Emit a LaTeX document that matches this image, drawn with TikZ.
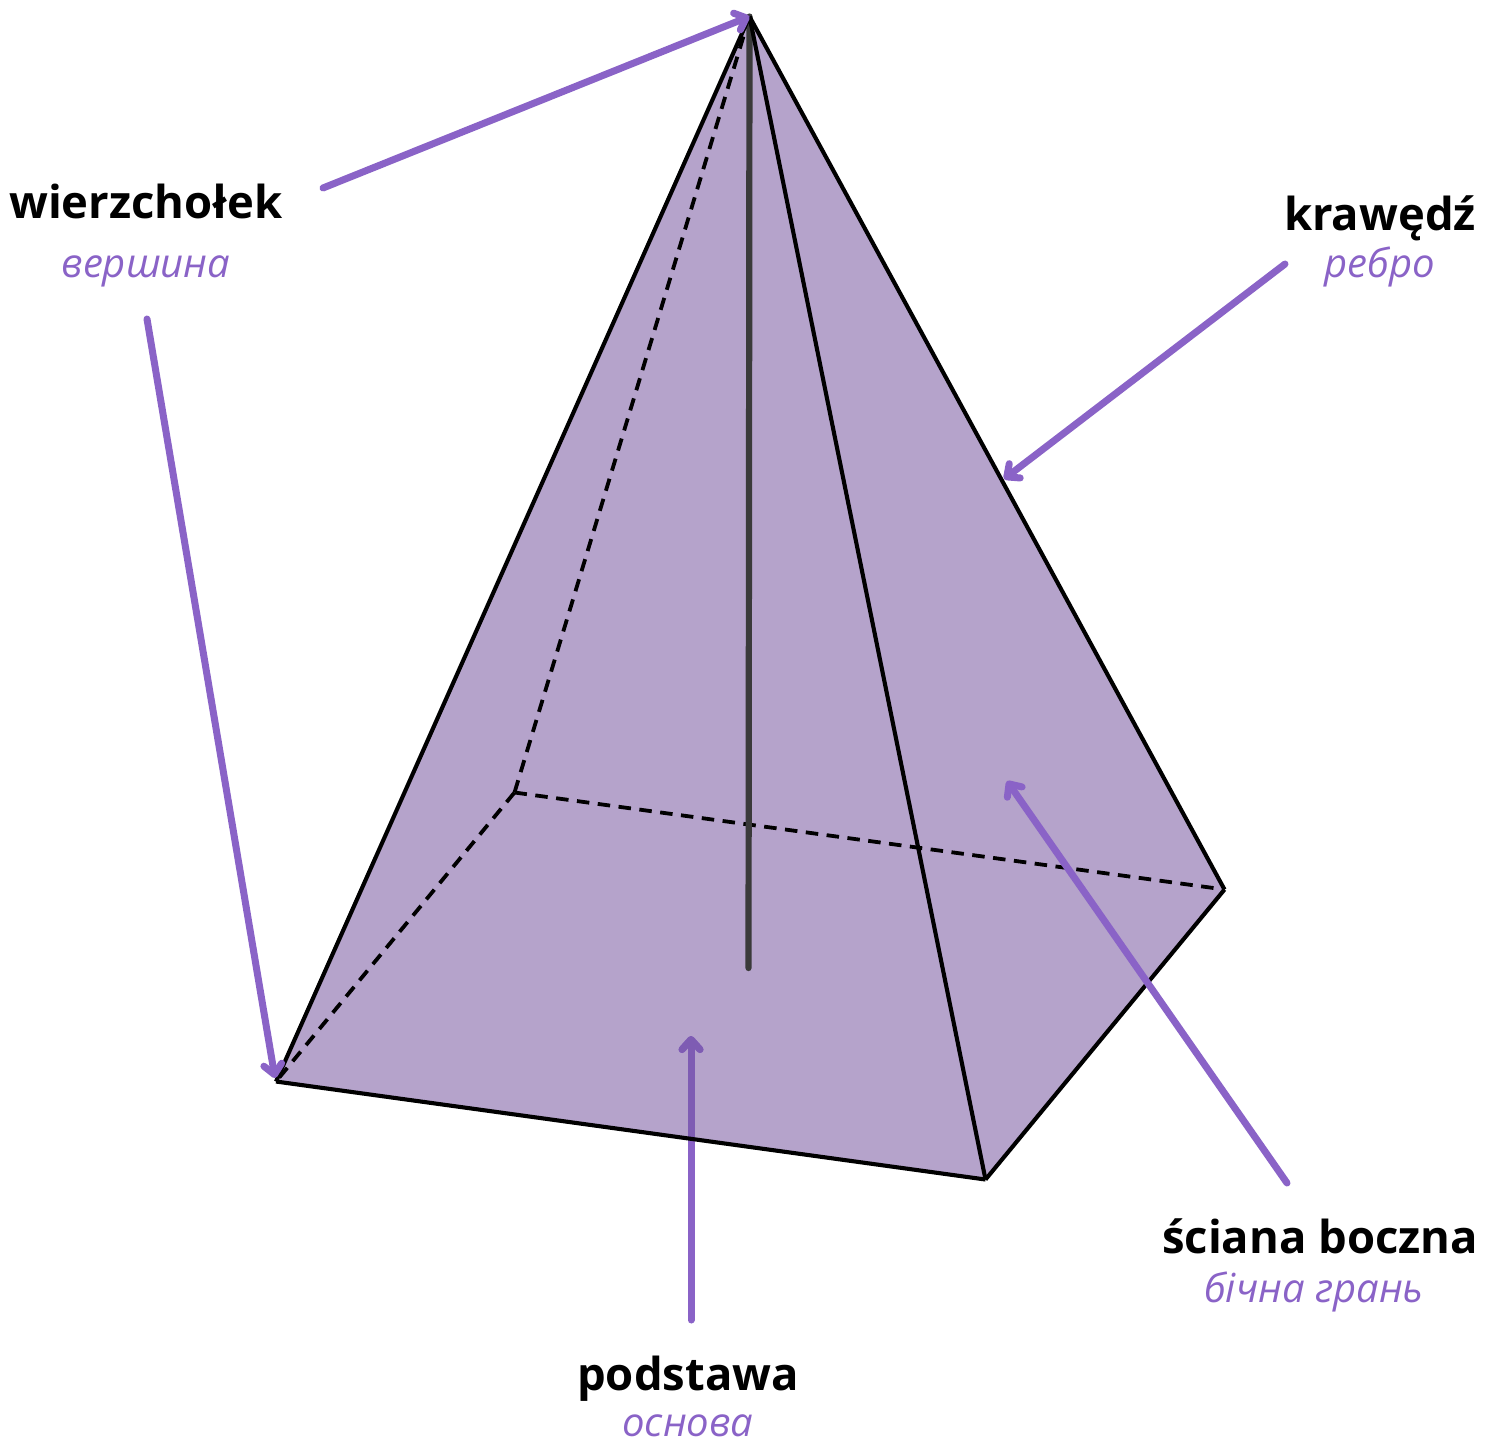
\documentclass[tikz,border=0pt]{standalone}
\usepackage{fontspec}
\setmainfont{Open Sans}
\usepackage{xcolor}
\usetikzlibrary{arrows.meta, positioning}
\definecolor{facefill}{HTML}{B5A3CB}
\definecolor{notepurple}{HTML}{8A63C7}
\definecolor{notedark}{HTML}{7E5CB3}
\definecolor{axisgray}{HTML}{3A3A3A}

\begin{document}
\begin{tikzpicture}[
    x=1pt, y=-1pt,
    node distance=47pt,
    term/.style={inner sep=0pt, text height=34pt, text depth=0pt, font=\fontsize{45.4}{45.4}\selectfont\bfseries},
    transl/.style={inner sep=0pt, text height=0pt, text depth=0pt, text=notepurple, font=\fontsize{40}{40}\selectfont\itshape},
    edge/.style={black, line width=4.1pt, line join=round},
    hidden/.style={black, line width=3.8pt, dash pattern=on 12.5pt off 8.5pt},
    pointer/.style={-{Straight Barb[round, length=10pt, width=18pt, line width=7pt]}, notepurple, line width=7pt, line cap=round},
]
\useasboundingbox (0,0) rectangle (1495,1441);

% Pyramid corners
\coordinate (apex) at (749.5,16.5);
\coordinate (frontleft) at (276,1081.5);
\coordinate (frontright) at (985.5,1179.5);
\coordinate (backright) at (1224.5,889.5);
\coordinate (backleft) at (514.5,792.5);
\coordinate (axisfoot) at (748.5,968);

% Faces
\fill[facefill] (apex) -- (frontleft) -- (frontright) -- (backright) -- cycle;

% Hidden edges
\draw[hidden] (apex) -- (backleft);
\draw[hidden] (backleft) -- (frontleft);
\draw[hidden] (backleft) -- (backright);

% Axis
\draw[axisgray, line width=6.2pt, line cap=round] (apex) -- (axisfoot);

% Pointer ends
\coordinate (vertexstarta) at (323,188);
\coordinate (vertexstartb) at (147,319);
\coordinate (vertexendb) at (275,1078);
\coordinate (edgestart) at (1285,264);
\coordinate (edgeend) at (1004,479);
\coordinate (facestart) at (1287,1183);
\coordinate (faceend) at (1007,781);
\coordinate (basestart) at (691,1320);
\coordinate (baseend) at (691,1036);

% Base pointer lies under the edges and darkens on the face
\draw[pointer] (basestart) -- (baseend);
\begin{scope}
\clip (apex) -- (frontleft) -- (frontright) -- (backright) -- cycle;
\draw[pointer, notedark] (basestart) -- (baseend);
\end{scope}

% Visible edges
\draw[edge] (apex) -- (frontleft);
\draw[edge] (frontleft) -- (frontright);
\draw[edge] (frontright) -- (backright);
\draw[edge] (backright) -- (apex);
\draw[edge] (apex) -- (frontright);

% Labels
\node[term] (vertexlabel) at (146,201) {wierzchołek};
\node[transl, below=59pt of vertexlabel.base] (vertexnote) {вершина};
\node[term] (edgelabel) at (1380,213) {krawędź};
\node[transl, below=of edgelabel.base] (edgenote) {ребро};
\node[term] (facelabel) at (1320,1236) {ściana boczna};
\node[transl, below=49pt of facelabel.base, xshift=-6pt] (facenote) {бічна грань};
\node[term] (baselabel) at (688,1373) {podstawa};
\node[transl, below=46pt of baselabel.base] (basenote) {основа};

% Pointers
\draw[pointer] (vertexstarta) -- (apex);
\draw[pointer] (vertexstartb) -- (vertexendb);
\draw[pointer] (edgestart) -- (edgeend);
\draw[pointer] (facestart) -- (faceend);

\end{tikzpicture}
\end{document}
